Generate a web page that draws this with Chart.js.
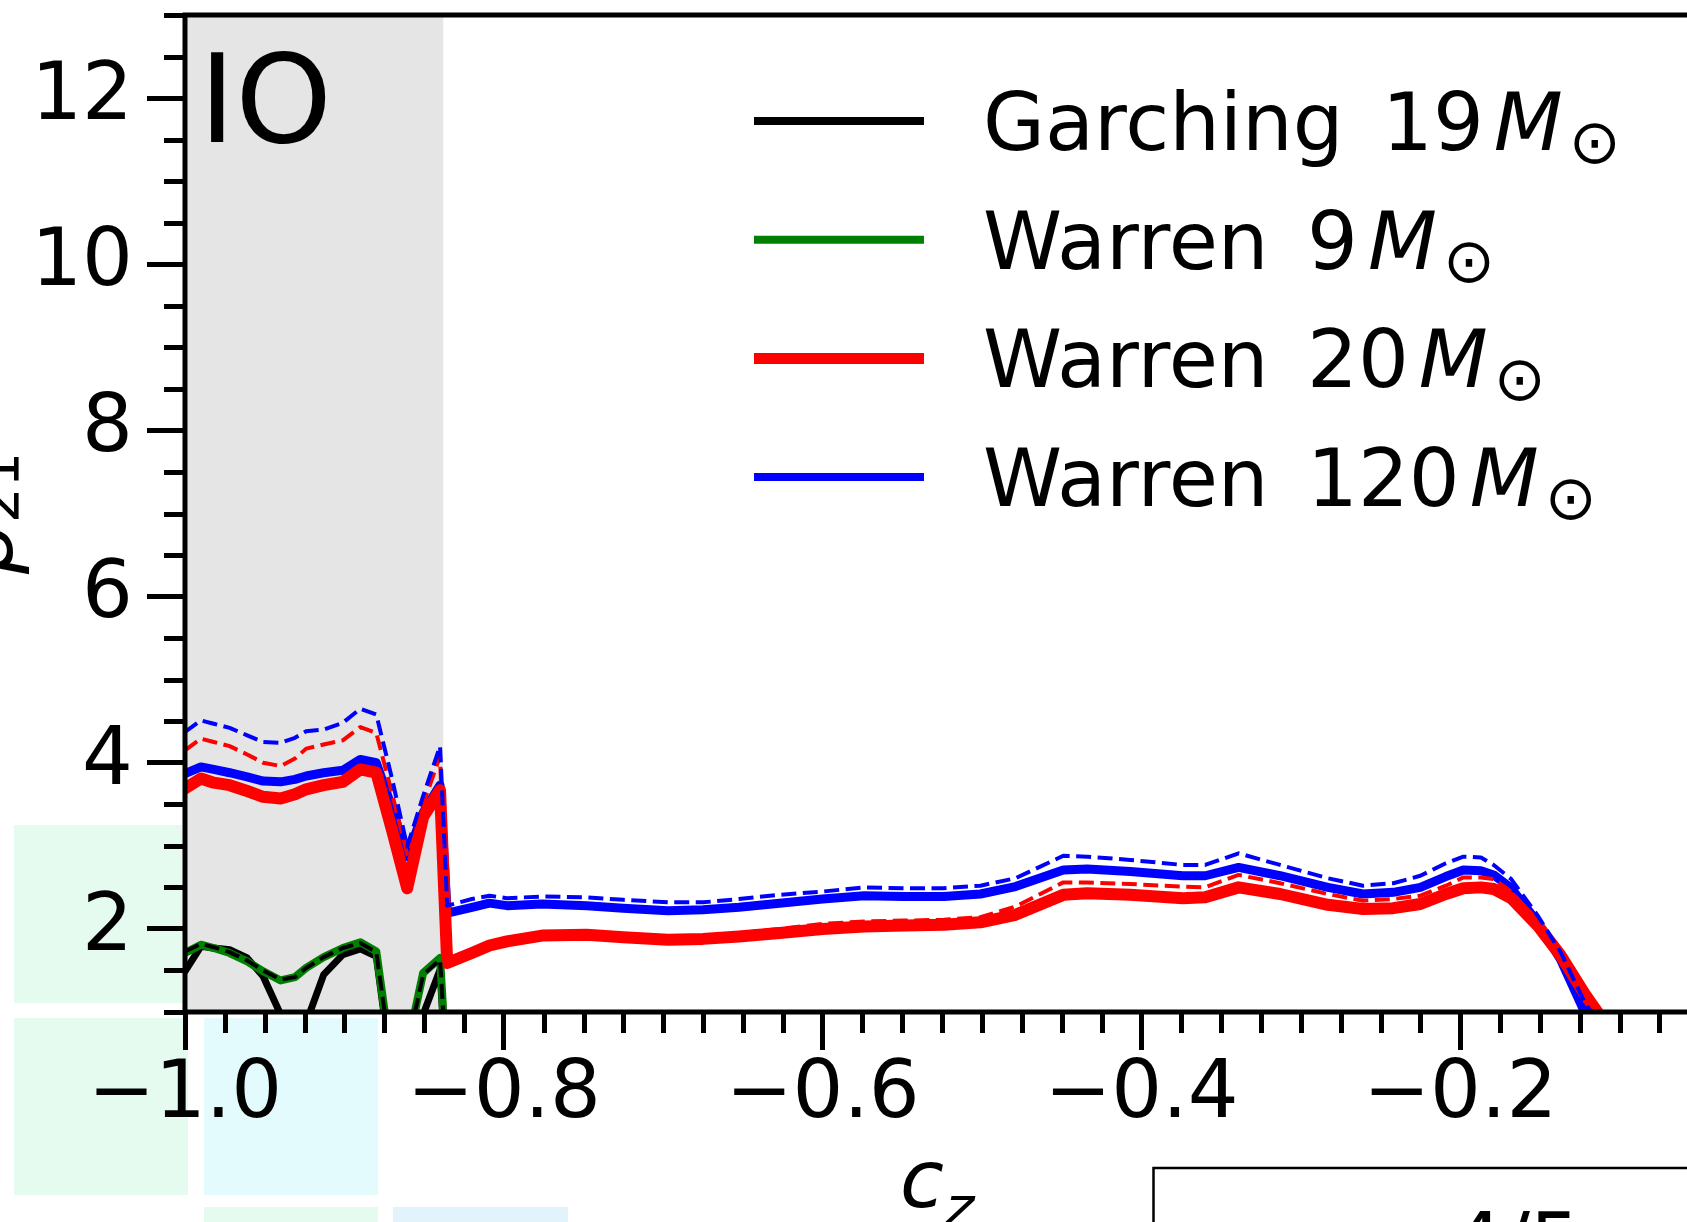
<!DOCTYPE html>
<html>
<head>
<meta charset="utf-8">
<title>IO c_z</title>
<script src="https://cdn.jsdelivr.net/npm/chart.js@4.4.0/dist/chart.umd.min.js"></script>
<style>
  html, body { margin: 0; padding: 0; overflow: hidden; background: #ffffff; }
  #wrap { width: 1687px; height: 1222px; overflow: hidden; position: relative; }
  canvas { display: block; }
</style>
</head>
<body>
<div id="wrap"><canvas id="grafik" width="1800" height="1222"></canvas></div>
<script>
// cos(zenith) sample points
const cz = [-1.0, -0.990, -0.982, -0.972, -0.961, -0.951, -0.940, -0.931, -0.924, -0.913,
  -0.901, -0.890, -0.880, -0.870, -0.8606, -0.8506, -0.840, -0.8355, -0.820, -0.809,
  -0.798, -0.776, -0.748, -0.725, -0.697, -0.675, -0.6525, -0.627, -0.600, -0.574,
  -0.549, -0.524, -0.501, -0.479, -0.449, -0.434, -0.407, -0.374, -0.360, -0.339,
  -0.313, -0.283, -0.261, -0.242, -0.225, -0.209, -0.198, -0.187, -0.179, -0.168,
  -0.151, -0.137, -0.122, -0.114, -0.100];

// Garching 19 Msun (solid / dashed)
const garching19 = [1.49, 1.79, 1.77, 1.75, 1.65, 1.43, 0.97, 0.60, 0.87, 1.45,
  1.69, 1.76, 1.67, 0.24, 0.30, 0.97, 1.51, 0.00];
const garching19Dash = [1.73, 1.82, 1.78, 1.72, 1.62, 1.50, 1.39, 1.42, 1.53, 1.66,
  1.77, 1.83, 1.72, 0.35, 0.57, 1.45, 1.63, 0.20];

// Warren 9 Msun
const warren9 = [1.71, 1.81, 1.77, 1.71, 1.61, 1.49, 1.38, 1.42, 1.53, 1.66,
  1.77, 1.84, 1.73, 0.35, 0.57, 1.47, 1.65, 0.19];
const warren9Dash = [1.71, 1.81, 1.77, 1.71, 1.61, 1.49, 1.38, 1.42, 1.53, 1.66,
  1.77, 1.84, 1.73, 0.35, 0.57, 1.47, 1.65, 0.19];

// Warren 20 Msun
const warren20 = [3.69, 3.81, 3.76, 3.73, 3.66, 3.59, 3.57, 3.62, 3.68, 3.73,
  3.77, 3.92, 3.88, 3.18, 2.49, 3.35, 3.67, 1.59, 1.71, 1.80,
  1.85, 1.92, 1.93, 1.90, 1.87, 1.88, 1.91, 1.95, 2.00, 2.03,
  2.04, 2.05, 2.08, 2.17, 2.41, 2.43, 2.41, 2.37, 2.38, 2.50,
  2.42, 2.29, 2.24, 2.25, 2.30, 2.42, 2.49, 2.50, 2.48, 2.37,
  2.03, 1.68, 1.22, 1.00, 0.60];
const warren20Dash = [4.15, 4.29, 4.25, 4.20, 4.10, 4.00, 3.96, 4.05, 4.17, 4.22,
  4.27, 4.43, 4.36, 3.62, 2.90, 3.50, 4.08, 1.62, 1.75, 1.84,
  1.89, 1.95, 1.96, 1.93, 1.90, 1.91, 1.95, 2.00, 2.06, 2.09,
  2.10, 2.11, 2.14, 2.27, 2.56, 2.56, 2.54, 2.51, 2.50, 2.65,
  2.55, 2.42, 2.34, 2.36, 2.40, 2.52, 2.62, 2.62, 2.60, 2.45,
  2.08, 1.72, 1.18, 0.95, 0.60];

// Warren 120 Msun
const warren120 = [3.87, 3.95, 3.92, 3.88, 3.83, 3.78, 3.77, 3.80, 3.84, 3.88,
  3.91, 4.04, 4.00, 3.45, 2.87, 3.40, 3.73, 2.19, 2.26, 2.31,
  2.28, 2.30, 2.28, 2.25, 2.22, 2.23, 2.26, 2.31, 2.36, 2.40,
  2.39, 2.39, 2.42, 2.51, 2.71, 2.72, 2.69, 2.64, 2.64, 2.74,
  2.64, 2.50, 2.42, 2.44, 2.50, 2.63, 2.71, 2.70, 2.65, 2.49,
  2.07, 1.63, 1.00, 0.80, 0.50];
const warren120Dash = [4.37, 4.51, 4.47, 4.42, 4.33, 4.25, 4.24, 4.30, 4.38, 4.40,
  4.48, 4.65, 4.58, 3.80, 2.99, 3.60, 4.20, 2.28, 2.36, 2.40,
  2.37, 2.39, 2.38, 2.35, 2.32, 2.32, 2.36, 2.41, 2.45, 2.50,
  2.49, 2.49, 2.52, 2.61, 2.88, 2.87, 2.83, 2.77, 2.77, 2.91,
  2.77, 2.61, 2.52, 2.55, 2.64, 2.79, 2.87, 2.86, 2.77, 2.60,
  2.15, 1.72, 1.12, 0.90, 0.50];

// axes
const xTicks = [-1.0, -0.8, -0.6, -0.4, -0.2, 0.0];
const yTicks = [2, 4, 6, 8, 10, 12];
const shadeRange = [-1.0, -0.838];

// legend
const legendNames = ['Garching', 'Warren', 'Warren', 'Warren'];
const legendMasses = ['19', '9', '20', '120'];
const legendColors = ['#000000', '#008000', '#ff0000', '#0000ff'];
const legendWidths = [8, 8, 11, 8];

const FONT = '"DejaVu Sans"';
Chart.defaults.font.family = FONT;
Chart.defaults.color = '#000000';

function buatSeri(values, color, width, dashed, order) {
  return {
    data: values.map((v, i) => ({ x: cz[i], y: v })),
    borderColor: color,
    borderWidth: width,
    borderDash: dashed ? [15, 6.5] : [],
    borderJoinStyle: 'round',
    borderCapStyle: dashed ? 'butt' : 'round',
    pointRadius: 0,
    tension: 0,
    fill: false,
    clip: 0,
    order: order
  };
}

// no extra room for overflowing tick labels
function tanpaPadding(s) {
  s.paddingLeft = 0;
  s.paddingRight = 0;
  s.paddingTop = 0;
  s.paddingBottom = 0;
}

// gray band, spines, minor ticks, texts
const hiasan = {
  id: 'hiasan',
  beforeDraw(chart) {
    const ctx = chart.ctx;
    ctx.save();
    ctx.fillStyle = '#e6fbef';
    ctx.fillRect(14, 825, 168, 178);
    ctx.fillRect(14, 1018, 174, 177);
    ctx.fillRect(204, 1207, 174, 20);
    ctx.fillStyle = '#e3fbfc';
    ctx.fillRect(204, 1018, 174, 177);
    ctx.fillStyle = '#e3f3fb';
    ctx.fillRect(393, 1207, 175, 20);
    ctx.restore();
  },
  beforeDatasetsDraw(chart) {
    const { ctx, chartArea, scales } = chart;
    const x0 = scales.x.getPixelForValue(shadeRange[0]);
    const x1 = scales.x.getPixelForValue(shadeRange[1]);
    ctx.save();
    ctx.fillStyle = '#e5e5e5';
    ctx.fillRect(x0, chartArea.top, x1 - x0, chartArea.bottom - chartArea.top);
    ctx.restore();
  },
  afterDatasetsDraw(chart) {
    const { ctx, chartArea, scales } = chart;
    ctx.save();
    ctx.strokeStyle = '#000000';
    ctx.lineWidth = 5;
    ctx.lineCap = 'square';
    ctx.beginPath();
    ctx.moveTo(chartArea.left, chartArea.top);
    ctx.lineTo(chartArea.right, chartArea.top);
    ctx.moveTo(chartArea.left, chartArea.top);
    ctx.lineTo(chartArea.left, chartArea.bottom);
    ctx.lineTo(chartArea.right, chartArea.bottom);
    ctx.stroke();

    // minor ticks
    ctx.lineCap = 'butt';
    ctx.beginPath();
    for (let i = 0; i <= 40; i++) {
      const v = -1 + i * 0.025;
      if (i % 8 === 0) continue;
      const px = Math.round(scales.x.getPixelForValue(v)) + 0.5;
      ctx.moveTo(px, chartArea.bottom);
      ctx.lineTo(px, chartArea.bottom + 21);
    }
    for (let i = 0; i <= 24; i++) {
      const v = 1 + i * 0.5;
      if (v % 2 === 0) continue;
      const py = Math.round(scales.y.getPixelForValue(v)) + 0.5;
      ctx.moveTo(chartArea.left, py);
      ctx.lineTo(chartArea.left - 21, py);
    }
    ctx.stroke();
    ctx.restore();
  },
  afterDraw(chart) {
    const ctx = chart.ctx;
    ctx.save();
    ctx.fillStyle = '#000000';
    ctx.textAlign = 'left';
    ctx.textBaseline = 'alphabetic';

    // panel tag
    ctx.font = '123px ' + FONT;
    ctx.fillText('IO', 199, 142);

    // legend
    for (let i = 0; i < legendNames.length; i++) {
      const yRow = 121 + i * 118.7;
      ctx.strokeStyle = legendColors[i];
      ctx.lineWidth = legendWidths[i];
      ctx.lineCap = 'butt';
      ctx.beginPath();
      ctx.moveTo(754, yRow);
      ctx.lineTo(924, yRow);
      ctx.stroke();

      const base = yRow + 29;
      let x = 983;
      ctx.font = '80px ' + FONT;
      ctx.fillText(legendNames[i], x, base);
      x += ctx.measureText(legendNames[i] + ' ').width + 13;
      ctx.fillText(legendMasses[i], x, base);
      x += ctx.measureText(legendMasses[i]).width + 10;
      ctx.font = 'italic 80px ' + FONT;
      ctx.fillText('M', x, base);
      x += ctx.measureText('M').width + 6;
      ctx.font = '62px ' + FONT;
      ctx.fillText('\u2299', x, base + 13);
    }

    // y label (rotated)
    ctx.save();
    ctx.translate(12, 513);
    ctx.rotate(-Math.PI / 2);
    ctx.font = 'italic 80px ' + FONT;
    const wB = ctx.measureText('\u03b2').width;
    ctx.font = '56px ' + FONT;
    const wS = ctx.measureText('21').width;
    const start = -(wB + wS) / 2;
    ctx.font = 'italic 80px ' + FONT;
    ctx.fillText('\u03b2', start, 0);
    ctx.font = '56px ' + FONT;
    ctx.fillText('21', start + wB, 6);
    ctx.restore();

    // x label
    ctx.font = 'italic 80px ' + FONT;
    ctx.fillText('c', 900, 1207);
    ctx.font = 'italic 56px ' + FONT;
    ctx.fillText('z', 945, 1226);

    // neighbouring legend box
    ctx.strokeStyle = '#000000';
    ctx.lineWidth = 2.5;
    ctx.strokeRect(1153.5, 1168, 800, 200);
    ctx.font = '80px ' + FONT;
    ctx.fillText('4/5', 1452, 1270);
    ctx.restore();
  }
};

function buatGrafik() {
  const ctx = document.getElementById('grafik').getContext('2d');
  new Chart(ctx, {
    type: 'line',
    data: {
      datasets: [
        buatSeri(garching19, '#000000', 7, false, 8),
        buatSeri(warren9, '#008000', 8, false, 7),
        buatSeri(warren120, '#0000ff', 9, false, 6),
        buatSeri(warren20, '#ff0000', 12, false, 5),
        buatSeri(warren9Dash, '#008000', 4, true, 4),
        buatSeri(garching19Dash, '#000000', 4, true, 3),
        buatSeri(warren20Dash, '#ff0000', 4, true, 2),
        buatSeri(warren120Dash, '#0000ff', 4, true, 1)
      ]
    },
    options: {
      responsive: false,
      animation: false,
      events: [],
      layout: { padding: { left: 0, right: 21, top: 15, bottom: 0 } },
      plugins: { legend: { display: false }, tooltip: { enabled: false } },
      scales: {
        x: {
          type: 'linear',
          min: -1,
          max: 0,
          afterBuildTicks: (s) => { s.ticks = xTicks.map(v => ({ value: v })); },
          afterFit: (s) => { s.height = 210; tanpaPadding(s); },
          border: { display: false },
          grid: { drawOnChartArea: false, tickLength: 38, tickWidth: 5, tickColor: '#000000' },
          ticks: {
            autoSkip: false,
            maxRotation: 0,
            padding: -2,
            font: { size: 80, family: FONT },
            color: '#000000',
            callback: (v) => Number(v).toFixed(1).replace('-', '\u2212')
          }
        },
        y: {
          type: 'linear',
          min: 1,
          max: 13,
          afterBuildTicks: (s) => { s.ticks = yTicks.map(v => ({ value: v })); },
          afterFit: (s) => { s.width = 185; tanpaPadding(s); },
          border: { display: false },
          grid: { drawOnChartArea: false, tickLength: 38, tickWidth: 5, tickColor: '#000000' },
          ticks: {
            autoSkip: false,
            padding: 14,
            font: { size: 80, family: FONT },
            color: '#000000',
            callback: (v) => String(v)
          }
        }
      }
    },
    plugins: [hiasan]
  });
}

buatGrafik();
</script>
</body>
</html>
